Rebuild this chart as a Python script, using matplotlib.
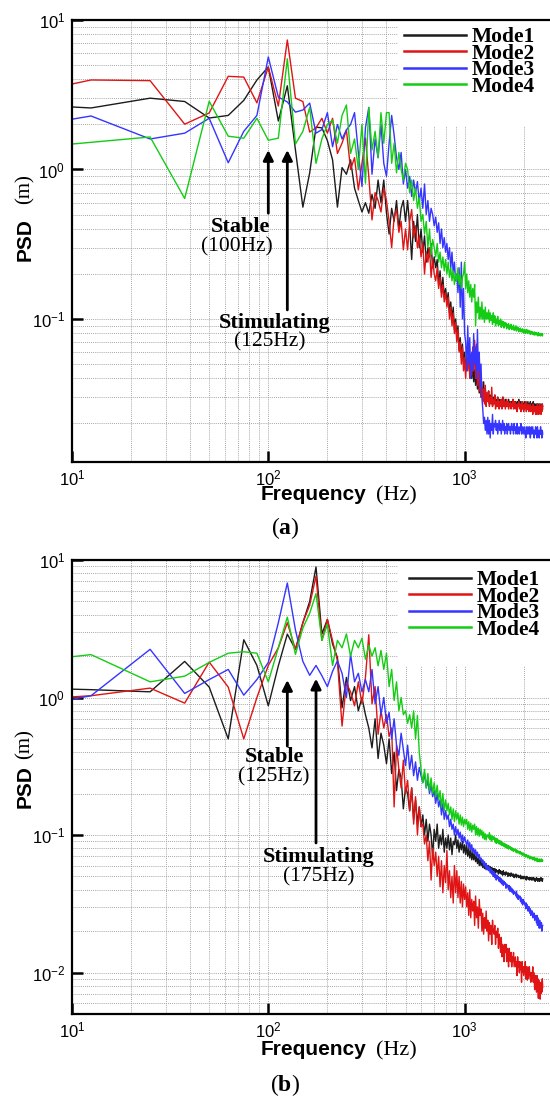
import numpy as np
import matplotlib
matplotlib.use("Agg")
import matplotlib.pyplot as plt
from matplotlib.patches import Rectangle
from matplotlib.ticker import LogLocator, NullFormatter

plt.rcParams['font.family'] = ['Liberation Sans', 'DejaVu Sans']
plt.rcParams['mathtext.fontset'] = 'custom'
plt.rcParams['mathtext.rm'] = 'Liberation Serif'
plt.rcParams['mathtext.bf'] = 'Liberation Serif:bold'
plt.rcParams['mathtext.default'] = 'regular'

# ---------------- data ----------------
FREQ = np.concatenate([[10.0], 12.5 * np.arange(1, 201)])
LABELS = ["Mode1", "Mode2", "Mode3", "Mode4"]
COLORS = ["#1c1c1c", "#e01414", "#3535ff", "#14cc14"]

A_M1 = [2.62,
 2.58, 3.0, 2.85, 2.21, 2.3, 2.9, 3.97, 4.85,
 2.11, 3.63, 1.35, 0.56, 0.95, 1.92, 1.9, 1.56,
 1.16, 0.56, 1.03, 0.93, 1.16, 0.75, 0.62, 0.52,
 0.6, 0.51, 0.68, 0.55, 0.85, 0.6, 0.85, 0.51,
 0.37, 0.55, 0.45, 0.62, 0.4, 0.55, 0.62, 0.45,
 0.62, 0.42, 0.25, 0.45, 0.33, 0.5, 0.3, 0.4,
 0.28, 0.36, 0.24, 0.3, 0.26, 0.32, 0.22, 0.26,
 0.22, 0.25, 0.17, 0.21, 0.15, 0.19, 0.14, 0.16,
 0.13, 0.15, 0.11, 0.13, 0.1, 0.12, 0.085, 0.1,
 0.075, 0.09, 0.062, 0.075, 0.055, 0.068, 0.05, 0.06,
 0.045, 0.055, 0.048, 0.06, 0.042, 0.052, 0.04, 0.05,
 0.038, 0.046, 0.036, 0.044, 0.034, 0.04, 0.032, 0.037,
 0.03, 0.035, 0.028, 0.038, 0.03, 0.034, 0.028, 0.032,
 0.029, 0.033, 0.027, 0.031, 0.028, 0.03, 0.026, 0.03,
 0.028, 0.031, 0.027, 0.029, 0.026, 0.03, 0.028, 0.027,
 0.029, 0.026, 0.028, 0.027, 0.03, 0.026, 0.028, 0.027,
 0.029, 0.027, 0.026, 0.028, 0.027, 0.029, 0.026, 0.028,
 0.027, 0.026, 0.028, 0.027, 0.029, 0.026, 0.027, 0.028,
 0.026, 0.028, 0.027, 0.026, 0.028, 0.027, 0.029, 0.026,
 0.027, 0.028, 0.026, 0.027, 0.028, 0.026, 0.027, 0.026,
 0.028, 0.027, 0.026, 0.028, 0.026, 0.027, 0.026, 0.028,
 0.027, 0.026, 0.027, 0.026, 0.028, 0.026, 0.027, 0.026,
 0.027, 0.026, 0.028, 0.026, 0.027, 0.025, 0.027, 0.026,
 0.026, 0.027, 0.025, 0.027, 0.026, 0.027, 0.025, 0.026,
 0.027, 0.025, 0.026, 0.027, 0.025, 0.026, 0.027, 0.026]

A_M2 = [3.73,
 3.97, 3.93, 2.01, 2.39, 4.2, 4.15, 2.79, 4.85,
 2.66, 7.35, 3.0, 2.85, 1.78, 1.9, 2.2, 1.75,
 2.2, 1.28, 1.5, 1.84, 1.0, 1.2, 0.73, 1.1,
 1.62, 0.9, 0.46, 0.7, 0.62, 0.52, 0.75, 0.62,
 0.45, 0.3, 0.48, 0.54, 0.38, 0.45, 0.29, 0.4,
 0.29, 0.45, 0.54, 0.35, 0.42, 0.3, 0.36, 0.26,
 0.32, 0.2, 0.28, 0.24, 0.3, 0.19, 0.25, 0.2,
 0.18, 0.22, 0.16, 0.19, 0.14, 0.17, 0.13, 0.15,
 0.12, 0.14, 0.1, 0.12, 0.09, 0.11, 0.08, 0.095,
 0.07, 0.085, 0.06, 0.07, 0.05, 0.065, 0.045, 0.055,
 0.04, 0.055, 0.045, 0.062, 0.04, 0.058, 0.042, 0.065,
 0.045, 0.072, 0.04, 0.068, 0.036, 0.055, 0.033, 0.045,
 0.03, 0.038, 0.028, 0.034, 0.027, 0.036, 0.026, 0.032,
 0.028, 0.033, 0.026, 0.03, 0.027, 0.035, 0.026, 0.029,
 0.027, 0.031, 0.025, 0.028, 0.026, 0.03, 0.027, 0.025,
 0.028, 0.026, 0.029, 0.025, 0.027, 0.03, 0.026, 0.028,
 0.025, 0.027, 0.029, 0.026, 0.028, 0.025, 0.027, 0.026,
 0.028, 0.025, 0.027, 0.026, 0.029, 0.025, 0.026, 0.028,
 0.025, 0.027, 0.026, 0.024, 0.027, 0.026, 0.028, 0.025,
 0.026, 0.027, 0.024, 0.026, 0.028, 0.025, 0.026, 0.024,
 0.027, 0.025, 0.026, 0.028, 0.024, 0.026, 0.025, 0.027,
 0.025, 0.024, 0.026, 0.025, 0.027, 0.024, 0.026, 0.025,
 0.026, 0.023, 0.027, 0.025, 0.024, 0.026, 0.025, 0.023,
 0.026, 0.025, 0.023, 0.027, 0.024, 0.026, 0.023, 0.025,
 0.027, 0.024, 0.025, 0.023, 0.026, 0.024, 0.027, 0.025]

A_M3 = [2.17,
 2.28, 1.6, 1.75, 2.2, 1.11, 1.8, 2.3, 5.66,
 3.05, 2.83, 2.42, 2.5, 2.78, 1.75, 1.85, 2.4,
 1.42, 2.0, 1.6, 1.84, 2.0, 2.4, 1.3, 0.77,
 1.9, 2.6, 0.93, 1.6, 1.2, 2.0, 1.1, 0.9,
 1.5, 2.3, 1.7, 1.2, 1.0, 1.3, 0.8, 1.0,
 0.75, 0.9, 0.66, 0.85, 0.7, 0.83, 0.6, 0.75,
 0.55, 0.8, 0.5, 0.62, 0.45, 0.55, 0.5, 0.42,
 0.48, 0.38, 0.44, 0.32, 0.4, 0.3, 0.35, 0.28,
 0.32, 0.25, 0.3, 0.22, 0.28, 0.2, 0.24, 0.18,
 0.2, 0.15, 0.22, 0.12, 0.24, 0.1, 0.16, 0.08,
 0.07, 0.045, 0.09, 0.05, 0.075, 0.04, 0.06, 0.045,
 0.08, 0.05, 0.065, 0.04, 0.085, 0.045, 0.06, 0.035,
 0.05, 0.03, 0.025, 0.02, 0.022, 0.018, 0.021, 0.017,
 0.022, 0.017, 0.021, 0.016, 0.02, 0.018, 0.023, 0.017,
 0.02, 0.019, 0.021, 0.018, 0.02, 0.017, 0.019, 0.021,
 0.018, 0.02, 0.017, 0.019, 0.021, 0.018, 0.02, 0.017,
 0.019, 0.018, 0.02, 0.017, 0.019, 0.02, 0.018, 0.019,
 0.017, 0.019, 0.02, 0.018, 0.019, 0.017, 0.02, 0.018,
 0.019, 0.017, 0.018, 0.02, 0.017, 0.019, 0.018, 0.017,
 0.019, 0.018, 0.02, 0.017, 0.018, 0.019, 0.017, 0.018,
 0.019, 0.017, 0.018, 0.016, 0.019, 0.018, 0.017, 0.019,
 0.018, 0.017, 0.019, 0.018, 0.016, 0.018, 0.019, 0.017,
 0.018, 0.019, 0.017, 0.018, 0.016, 0.018, 0.017, 0.019,
 0.017, 0.018, 0.016, 0.019, 0.017, 0.018, 0.017, 0.016,
 0.018, 0.017, 0.019, 0.017, 0.018, 0.016, 0.018, 0.017]

A_M4 = [1.48,
 1.52, 1.65, 0.64, 2.86, 1.67, 1.62, 2.2, 1.57,
 1.62, 5.5, 1.48, 1.8, 2.6, 1.1, 1.6, 2.0,
 2.14, 1.5, 2.3, 2.7, 1.28, 1.6, 1.0, 2.0,
 0.81, 2.6, 1.35, 1.8, 1.2, 2.4, 1.5, 2.4,
 2.4, 1.1, 1.5, 0.95, 1.3, 1.0, 0.85, 1.1,
 1.0, 0.7, 0.85, 0.62, 0.75, 0.55, 0.65, 0.45,
 0.5, 0.37, 0.45, 0.3, 0.4, 0.27, 0.34, 0.3,
 0.26, 0.32, 0.24, 0.28, 0.22, 0.26, 0.21, 0.25,
 0.2, 0.24, 0.19, 0.22, 0.18, 0.21, 0.17, 0.2,
 0.18, 0.22, 0.17, 0.2, 0.16, 0.19, 0.2, 0.24,
 0.16, 0.2, 0.15, 0.18, 0.14, 0.17, 0.13, 0.16,
 0.14, 0.17, 0.09, 0.13, 0.11, 0.14, 0.1, 0.12,
 0.1, 0.13, 0.1, 0.115, 0.095, 0.12, 0.1, 0.11,
 0.1, 0.115, 0.095, 0.11, 0.098, 0.105, 0.092, 0.11,
 0.095, 0.105, 0.09, 0.1, 0.093, 0.104, 0.09, 0.098,
 0.092, 0.1, 0.088, 0.097, 0.09, 0.096, 0.087, 0.095,
 0.09, 0.094, 0.086, 0.092, 0.088, 0.093, 0.085, 0.09,
 0.087, 0.092, 0.085, 0.089, 0.086, 0.091, 0.084, 0.088,
 0.085, 0.09, 0.083, 0.087, 0.085, 0.088, 0.082, 0.086,
 0.084, 0.087, 0.082, 0.085, 0.083, 0.086, 0.081, 0.084,
 0.082, 0.085, 0.08, 0.084, 0.082, 0.085, 0.08, 0.083,
 0.081, 0.084, 0.08, 0.082, 0.079, 0.083, 0.08, 0.082,
 0.079, 0.082, 0.08, 0.081, 0.078, 0.082, 0.079, 0.081,
 0.078, 0.081, 0.079, 0.08, 0.077, 0.081, 0.078, 0.08,
 0.078, 0.08, 0.077, 0.079, 0.078, 0.08, 0.077, 0.079]

B_M1 = [1.15,
 1.14, 1.1, 1.83, 1.19, 0.5, 2.63, 1.71, 0.87,
 1.7, 2.89, 2.24, 3.5, 5.0, 8.9, 2.9, 3.7,
 2.45, 1.95, 0.84, 1.4, 0.95, 1.2, 0.8, 1.0,
 0.75, 0.6, 0.43, 0.7, 0.36, 0.55, 0.45, 0.33,
 0.5, 0.28, 0.4, 0.21, 0.3, 0.26, 0.155, 0.22,
 0.2, 0.15, 0.22, 0.13, 0.18, 0.12, 0.16, 0.115,
 0.14, 0.1, 0.13, 0.09, 0.12, 0.1, 0.07, 0.11,
 0.09, 0.12, 0.08, 0.1, 0.085, 0.11, 0.075, 0.095,
 0.08, 0.1, 0.078, 0.095, 0.072, 0.09, 0.085, 0.1,
 0.08, 0.092, 0.075, 0.088, 0.078, 0.09, 0.074, 0.085,
 0.072, 0.084, 0.07, 0.08, 0.068, 0.078, 0.066, 0.075,
 0.066, 0.074, 0.064, 0.07, 0.062, 0.068, 0.06, 0.066,
 0.06, 0.065, 0.058, 0.063, 0.057, 0.062, 0.056, 0.06,
 0.056, 0.06, 0.055, 0.059, 0.054, 0.058, 0.055, 0.057,
 0.054, 0.057, 0.053, 0.056, 0.054, 0.055, 0.052, 0.056,
 0.053, 0.055, 0.052, 0.054, 0.051, 0.055, 0.052, 0.053,
 0.051, 0.054, 0.052, 0.053, 0.05, 0.053, 0.051, 0.052,
 0.05, 0.053, 0.051, 0.052, 0.05, 0.052, 0.049, 0.051,
 0.05, 0.052, 0.049, 0.051, 0.05, 0.051, 0.049, 0.05,
 0.049, 0.051, 0.048, 0.05, 0.049, 0.05, 0.048, 0.05,
 0.049, 0.05, 0.048, 0.049, 0.047, 0.05, 0.048, 0.049,
 0.048, 0.049, 0.047, 0.049, 0.048, 0.049, 0.047, 0.048,
 0.049, 0.047, 0.048, 0.049, 0.047, 0.048, 0.046, 0.048,
 0.047, 0.049, 0.047, 0.048, 0.046, 0.048, 0.047, 0.048,
 0.046, 0.048, 0.047, 0.049, 0.047, 0.048, 0.046, 0.048]

B_M2 = [1.01,
 1.03, 1.17, 0.91, 1.81, 1.19, 0.5, 1.0, 1.71,
 2.3, 3.5, 2.24, 3.5, 4.7, 7.65, 2.6, 3.7,
 2.6, 1.85, 0.62, 1.27, 1.1, 0.87, 1.3, 0.9,
 1.4, 2.86, 0.9, 1.2, 0.54, 0.8, 0.6, 0.75,
 0.52, 0.6, 0.16, 0.45, 0.3, 0.22, 0.35, 0.2,
 0.25, 0.15, 0.22, 0.12, 0.19, 0.1, 0.16, 0.115,
 0.12, 0.086, 0.1, 0.065, 0.09, 0.047, 0.08, 0.06,
 0.075, 0.05, 0.07, 0.042, 0.065, 0.038, 0.06, 0.045,
 0.077, 0.04, 0.055, 0.035, 0.05, 0.032, 0.06, 0.038,
 0.055, 0.035, 0.05, 0.032, 0.046, 0.03, 0.044, 0.034,
 0.042, 0.03, 0.038, 0.026, 0.04, 0.025, 0.034, 0.028,
 0.033, 0.022, 0.036, 0.025, 0.03, 0.021, 0.034, 0.026,
 0.029, 0.02, 0.027, 0.019, 0.025, 0.021, 0.028, 0.02,
 0.024, 0.017, 0.023, 0.019, 0.022, 0.016, 0.024, 0.02,
 0.019, 0.022, 0.016, 0.02, 0.018, 0.021, 0.015, 0.019,
 0.017, 0.014, 0.018, 0.013, 0.016, 0.015, 0.012, 0.016,
 0.014, 0.016, 0.012, 0.015, 0.013, 0.011, 0.015, 0.013,
 0.012, 0.014, 0.011, 0.013, 0.012, 0.014, 0.011, 0.012,
 0.013, 0.011, 0.012, 0.0095, 0.013, 0.011, 0.012, 0.01,
 0.012, 0.0105, 0.011, 0.0085, 0.012, 0.01, 0.011, 0.0095,
 0.011, 0.01, 0.012, 0.009, 0.011, 0.01, 0.0088, 0.011,
 0.01, 0.009, 0.011, 0.0095, 0.01, 0.0085, 0.01, 0.009,
 0.0095, 0.011, 0.0085, 0.01, 0.009, 0.0075, 0.0095, 0.0085,
 0.009, 0.0072, 0.0095, 0.008, 0.009, 0.0065, 0.0088, 0.0075,
 0.0085, 0.0064, 0.008, 0.007, 0.0085, 0.0072, 0.009, 0.0078]

B_M3 = [0.97,
 1.03, 2.24, 1.07, 1.35, 1.6, 1.04, 1.35, 1.8,
 3.5, 6.8, 3.1, 1.83, 1.45, 1.71, 1.44, 1.2,
 1.55, 1.85, 1.5, 1.0, 2.06, 1.3, 1.5, 1.1,
 1.35, 1.1, 1.6, 0.9, 1.2, 0.75, 1.0, 0.65,
 0.78, 0.5, 0.7, 0.45, 0.38, 0.55, 0.42, 0.32,
 0.45, 0.3, 0.38, 0.27, 0.34, 0.25, 0.31, 0.27,
 0.24, 0.28, 0.22, 0.25, 0.2, 0.23, 0.19, 0.21,
 0.17, 0.2, 0.16, 0.18, 0.14, 0.17, 0.13, 0.15,
 0.13, 0.14, 0.115, 0.13, 0.11, 0.12, 0.1, 0.115,
 0.1, 0.11, 0.095, 0.105, 0.09, 0.1, 0.088, 0.097,
 0.09, 0.085, 0.092, 0.08, 0.088, 0.078, 0.085, 0.075,
 0.08, 0.073, 0.078, 0.07, 0.075, 0.068, 0.072, 0.066,
 0.068, 0.063, 0.066, 0.06, 0.064, 0.058, 0.062, 0.056,
 0.06, 0.055, 0.058, 0.053, 0.057, 0.052, 0.055, 0.05,
 0.054, 0.049, 0.052, 0.047, 0.051, 0.048, 0.05, 0.046,
 0.049, 0.045, 0.048, 0.044, 0.047, 0.043, 0.046, 0.044,
 0.045, 0.041, 0.044, 0.042, 0.043, 0.04, 0.043, 0.039,
 0.042, 0.039, 0.041, 0.038, 0.04, 0.037, 0.039, 0.038,
 0.038, 0.036, 0.039, 0.035, 0.037, 0.034, 0.036, 0.035,
 0.036, 0.033, 0.035, 0.032, 0.034, 0.031, 0.034, 0.032,
 0.033, 0.031, 0.032, 0.029, 0.032, 0.03, 0.031, 0.028,
 0.03, 0.028, 0.03, 0.027, 0.029, 0.026, 0.028, 0.027,
 0.028, 0.025, 0.027, 0.026, 0.027, 0.024, 0.026, 0.025,
 0.025, 0.023, 0.026, 0.022, 0.025, 0.023, 0.024, 0.021,
 0.024, 0.022, 0.023, 0.021, 0.023, 0.02, 0.022, 0.022]

B_M4 = [1.98,
 2.05, 1.3, 1.43, 1.8, 2.1, 2.15, 2.1, 1.3,
 2.3, 3.84, 2.06, 3.2, 4.1, 5.7, 2.6, 3.4,
 1.71, 2.6, 2.3, 2.9, 2.0, 2.6, 2.3, 2.7,
 1.9, 2.4, 2.0, 2.3, 1.7, 2.2, 1.6, 2.1,
 1.2, 1.6, 0.95, 1.3, 0.8, 1.0, 0.75, 0.8,
 0.65, 0.75, 0.6, 0.8, 0.5, 0.74, 0.4, 0.3,
 0.24, 0.3, 0.22, 0.28, 0.21, 0.26, 0.2, 0.24,
 0.19, 0.23, 0.18, 0.21, 0.16, 0.2, 0.15, 0.18,
 0.15, 0.17, 0.14, 0.16, 0.13, 0.155, 0.125, 0.15,
 0.13, 0.145, 0.12, 0.14, 0.118, 0.135, 0.115, 0.13,
 0.12, 0.13, 0.11, 0.125, 0.108, 0.122, 0.105, 0.118,
 0.11, 0.12, 0.1, 0.115, 0.1, 0.112, 0.098, 0.11,
 0.1, 0.108, 0.095, 0.105, 0.093, 0.102, 0.092, 0.1,
 0.1, 0.095, 0.104, 0.092, 0.1, 0.09, 0.098, 0.093,
 0.097, 0.089, 0.095, 0.087, 0.094, 0.088, 0.092, 0.086,
 0.091, 0.085, 0.09, 0.084, 0.088, 0.083, 0.087, 0.082,
 0.086, 0.081, 0.085, 0.08, 0.084, 0.079, 0.083, 0.08,
 0.082, 0.078, 0.081, 0.077, 0.08, 0.076, 0.079, 0.077,
 0.079, 0.075, 0.078, 0.074, 0.077, 0.075, 0.076, 0.073,
 0.076, 0.073, 0.075, 0.072, 0.074, 0.071, 0.074, 0.072,
 0.073, 0.07, 0.072, 0.069, 0.072, 0.07, 0.071, 0.068,
 0.071, 0.069, 0.07, 0.067, 0.07, 0.068, 0.069, 0.067,
 0.069, 0.066, 0.068, 0.067, 0.069, 0.065, 0.068, 0.066,
 0.067, 0.065, 0.068, 0.064, 0.067, 0.065, 0.066, 0.064,
 0.067, 0.064, 0.066, 0.065, 0.067, 0.064, 0.066, 0.065]

PANEL_A = [A_M1, A_M2, A_M3, A_M4]
PANEL_B = [B_M1, B_M2, B_M3, B_M4]

# annotations: (text_bold, text_regular, arrow_x, arrow_tip, arrow_tail, bold_pos, reg_pos)
ANN_A = [("Stable", "(100Hz)", 100, 1.35, 0.51, (71.8, 0.41), (69, 0.303)),
         ("Stimulating", "(125Hz)", 125, 1.35, 0.115, (108, 0.094), (102, 0.070))]
ANN_B = [("Stable", "(125Hz)", 125, 1.34, 0.443, (107, 0.369), (107, 0.264)),
         ("Stimulating", "(175Hz)", 175, 1.37, 0.0875, (181, 0.069), (180, 0.0496))]

# ---------------- figure ----------------
W, H = 550, 1100
fig = plt.figure(figsize=(W / 100, H / 100), dpi=100)

SERIF = ['Liberation Serif', 'DejaVu Serif']
SANS = ['Liberation Sans', 'DejaVu Sans']


def make_panel(top_px, bot_px, ymin, series, anns, leg_anchor_px, letter, letter_y,
               xlab_y, psd_bottom, m_bottom):
    ax = fig.add_axes([72 / W, 1 - bot_px / H, 1 - 72 / W, (bot_px - top_px) / H])
    ax.set_xscale('log')
    ax.set_yscale('log')
    ax.set_xlim(10, 10 ** (1 + 478 / 196.3))
    ax.set_ylim(ymin, 10)
    ax.set_axisbelow(True)
    ax.xaxis.set_major_locator(LogLocator(base=10, numticks=10))
    ax.yaxis.set_major_locator(LogLocator(base=10, numticks=10))
    ax.xaxis.set_minor_locator(LogLocator(base=10, subs=np.arange(2, 10), numticks=20))
    ax.yaxis.set_minor_locator(LogLocator(base=10, subs=np.arange(2, 10), numticks=20))
    ax.xaxis.set_minor_formatter(NullFormatter())
    ax.yaxis.set_minor_formatter(NullFormatter())
    ax.grid(True, which='both', ls=(0, (1, 1.3)), lw=0.65, color='#999999')
    ax.tick_params(which='major', direction='in', length=8, width=1.8, labelsize=12,
                   pad=5, top=False, right=False)
    ax.tick_params(which='minor', length=0)
    for s in ['left', 'bottom', 'top']:
        ax.spines[s].set_linewidth(1.6)
    ax.spines['right'].set_visible(False)

    # white area behind the legend (hides the grid)
    ax.add_patch(Rectangle((0.683, 1 - 106 / (bot_px - top_px)), 0.4, 0.3,
                           transform=ax.transAxes, fc='white', ec='none', zorder=1,
                           clip_on=True))

    for vals, lab, col in zip(series, LABELS, COLORS):
        ax.plot(FREQ, vals, color=col, lw=1.0, label=lab, zorder=2)

    leg = ax.legend(loc='upper left', bbox_to_anchor=(leg_anchor_px[0] / W, 1 - leg_anchor_px[1] / H),
                    bbox_transform=fig.transFigure, frameon=False, borderpad=0, borderaxespad=0,
                    handlelength=2.9, handletextpad=0.25, labelspacing=-0.16,
                    prop={'family': SERIF, 'weight': 'bold', 'size': 15.5})
    for h in leg.get_lines():
        h.set_linewidth(1.8)
    leg.set_zorder(5)

    for tb, tr, ax_x, tip, tail, pb, pr in anns:
        ax.annotate('', xy=(ax_x, tip), xytext=(ax_x, tail),
                    arrowprops=dict(arrowstyle='-|>', color='black', lw=2.0,
                                    mutation_scale=15, shrinkA=0, shrinkB=0), zorder=6)
        ax.text(pb[0], pb[1], tb, ha='center', va='center', family=SERIF, weight='bold',
                fontsize=16, zorder=6)
        ax.text(pr[0], pr[1], tr, ha='center', va='center', family=SERIF,
                fontsize=15.5, zorder=6)

    # axis labels
    fig.text(366 / W, 1 - xlab_y / H, 'Frequency', ha='right', va='baseline',
             family=SANS, weight='bold', fontsize=15)
    fig.text(376 / W, 1 - xlab_y / H, '(Hz)', ha='left', va='baseline',
             family=SERIF, fontsize=16)
    fig.text(25 / W, 1 - psd_bottom / H, 'PSD', rotation=90, ha='center', va='bottom',
             family=SANS, weight='bold', fontsize=15)
    fig.text(25 / W, 1 - m_bottom / H, '(m)', rotation=90, ha='center', va='bottom',
             family=SERIF, fontsize=15)
    fig.text(285 / W, 1 - letter_y / H, r'$\mathrm{(}\mathbf{' + letter + r'}\mathrm{)}$',
             ha='center', va='center', fontsize=17)
    return ax


make_panel(20, 462, 10 ** (1 - 442 / 149.5), PANEL_A, ANN_A, (404, 27), 'a', 528,
           500, 261, 204)
make_panel(560, 1014, 10 ** (1 - 454 / 137.5), PANEL_B, ANN_B, (409, 570), 'b', 1085,
           1055, 808, 759)

fig.savefig('out.png', dpi=100)
